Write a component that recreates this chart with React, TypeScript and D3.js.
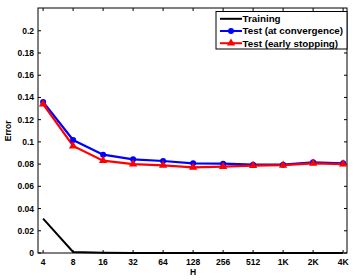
import { useEffect, useRef } from 'react';
import * as d3 from 'd3';

const hValues = [4, 8, 16, 32, 64, 128, 256, 512, 1024, 2048, 4096];
const hLabels = ['4', '8', '16', '32', '64', '128', '256', '512', '1K', '2K', '4K'];
const training = [0.031, 0.001, 0.0003, 0, 0, 0, 0, 0, 0, 0, 0];
const testConvergence = [0.136, 0.1017, 0.0885, 0.0843, 0.0828, 0.0807, 0.0804, 0.0795, 0.0795, 0.0816, 0.0807];
const testEarly = [0.134, 0.0963, 0.0831, 0.08, 0.0789, 0.0771, 0.0777, 0.0786, 0.079, 0.0807, 0.08];
const yTicks = [0, 0.02, 0.04, 0.06, 0.08, 0.1, 0.12, 0.14, 0.16, 0.18, 0.2];

const App = () => {
  const svgRef = useRef<SVGSVGElement>(null);

  useEffect(() => {
    const width = 354;
    const height = 280;
    const margin = { top: 8, right: 7, bottom: 27, left: 38 };
    const chartWidth = width - margin.left - margin.right;
    const chartHeight = height - margin.top - margin.bottom;
    const font = '"Liberation Sans", Arial, sans-serif';

    d3.select(svgRef.current).selectAll('*').remove();
    const svg = d3.select(svgRef.current)
      .attr('width', width)
      .attr('height', height)
      .append('g')
      .attr('transform', `translate(${margin.left},${margin.top})`);

    // log2 x scale, a bit of padding on both sides
    const x = d3.scaleLog().base(2)
      .domain([Math.pow(2, 2 - 0.17), Math.pow(2, 12 + 0.13)])
      .range([0, chartWidth]);
    const y = d3.scaleLinear().domain([0, 0.2205]).range([chartHeight, 0]);

    // box
    svg.append('rect')
      .attr('width', chartWidth)
      .attr('height', chartHeight)
      .attr('fill', 'none')
      .attr('stroke', '#000')
      .attr('stroke-width', 1);

    // ticks inside, on all four sides
    const tickLen = 3;
    hValues.forEach((h, i) => {
      const px = x(h);
      svg.append('line').attr('x1', px).attr('x2', px).attr('y1', chartHeight).attr('y2', chartHeight - tickLen).attr('stroke', '#000');
      svg.append('line').attr('x1', px).attr('x2', px).attr('y1', 0).attr('y2', tickLen).attr('stroke', '#000');
      svg.append('text')
        .attr('x', px)
        .attr('y', chartHeight + 12)
        .attr('text-anchor', 'middle')
        .attr('font-family', font)
        .attr('font-weight', 'bold')
        .attr('font-size', '8.5px')
        .text(hLabels[i]);
    });
    yTicks.forEach(t => {
      const py = y(t);
      svg.append('line').attr('x1', 0).attr('x2', tickLen).attr('y1', py).attr('y2', py).attr('stroke', '#000');
      svg.append('line').attr('x1', chartWidth).attr('x2', chartWidth - tickLen).attr('y1', py).attr('y2', py).attr('stroke', '#000');
      svg.append('text')
        .attr('x', -4)
        .attr('y', py)
        .attr('dy', '0.35em')
        .attr('text-anchor', 'end')
        .attr('font-family', font)
        .attr('font-weight', 'bold')
        .attr('font-size', '8.5px')
        .text(String(t));
    });

    // axis labels
    svg.append('text')
      .attr('x', x(128))
      .attr('y', chartHeight + 22)
      .attr('text-anchor', 'middle')
      .attr('font-family', font)
      .attr('font-weight', 'bold')
      .attr('font-size', '8.5px')
      .text('H');
    svg.append('text')
      .attr('transform', `translate(${-27},${y(0.11)}) rotate(-90)`)
      .attr('text-anchor', 'middle')
      .attr('font-family', font)
      .attr('font-weight', 'bold')
      .attr('font-size', '8.5px')
      .text('Error');

    const line = d3.line<number>()
      .x((_, i) => x(hValues[i]))
      .y(d => y(d));

    svg.append('path').datum(training)
      .attr('d', line).attr('fill', 'none').attr('stroke', '#000').attr('stroke-width', 2);
    svg.append('path').datum(testConvergence)
      .attr('d', line).attr('fill', 'none').attr('stroke', '#0000ff').attr('stroke-width', 2.2);
    svg.append('path').datum(testEarly)
      .attr('d', line).attr('fill', 'none').attr('stroke', '#ff0000').attr('stroke-width', 2.2);

    const tri = d3.symbol().type(d3.symbolTriangle).size(30);

    svg.selectAll('.circ').data(testConvergence).enter()
      .append('circle')
      .attr('cx', (_, i) => x(hValues[i]))
      .attr('cy', d => y(d))
      .attr('r', 3)
      .attr('fill', '#0000ff');
    svg.selectAll('.tri').data(testEarly).enter()
      .append('path')
      .attr('d', tri)
      .attr('transform', (d, i) => `translate(${x(hValues[i])},${y(d)})`)
      .attr('fill', '#ff0000');

    // legend
    const lg = svg.append('g').attr('transform', `translate(${216 - margin.left},${11.5 - margin.top})`);
    lg.append('rect')
      .attr('width', 131)
      .attr('height', 37.5)
      .attr('fill', '#fff')
      .attr('stroke', '#000')
      .attr('stroke-width', 1);
    const items = [
      { label: 'Training', color: '#000', marker: 'none' },
      { label: 'Test (at convergence)', color: '#0000ff', marker: 'circle' },
      { label: 'Test (early stopping)', color: '#ff0000', marker: 'triangle' },
    ];
    items.forEach((it, i) => {
      const ly = 7.3 + i * 12.2;
      lg.append('line')
        .attr('x1', 4).attr('x2', 26).attr('y1', ly).attr('y2', ly)
        .attr('stroke', it.color).attr('stroke-width', 2);
      if (it.marker === 'circle') {
        lg.append('circle').attr('cx', 15).attr('cy', ly).attr('r', 3).attr('fill', it.color);
      } else if (it.marker === 'triangle') {
        lg.append('path').attr('d', tri).attr('transform', `translate(15,${ly})`).attr('fill', it.color);
      }
      lg.append('text')
        .attr('x', 26.5)
        .attr('y', ly)
        .attr('dy', '0.35em')
        .attr('font-family', font)
        .attr('font-weight', 'bold')
        .attr('font-size', '9.8px')
        .text(it.label);
    });
  }, []);

  return (
    <div style={{ position: 'absolute', left: 0, top: 0 }}>
      <svg ref={svgRef} style={{ display: 'block' }}></svg>
    </div>
  );
};

export default App;
